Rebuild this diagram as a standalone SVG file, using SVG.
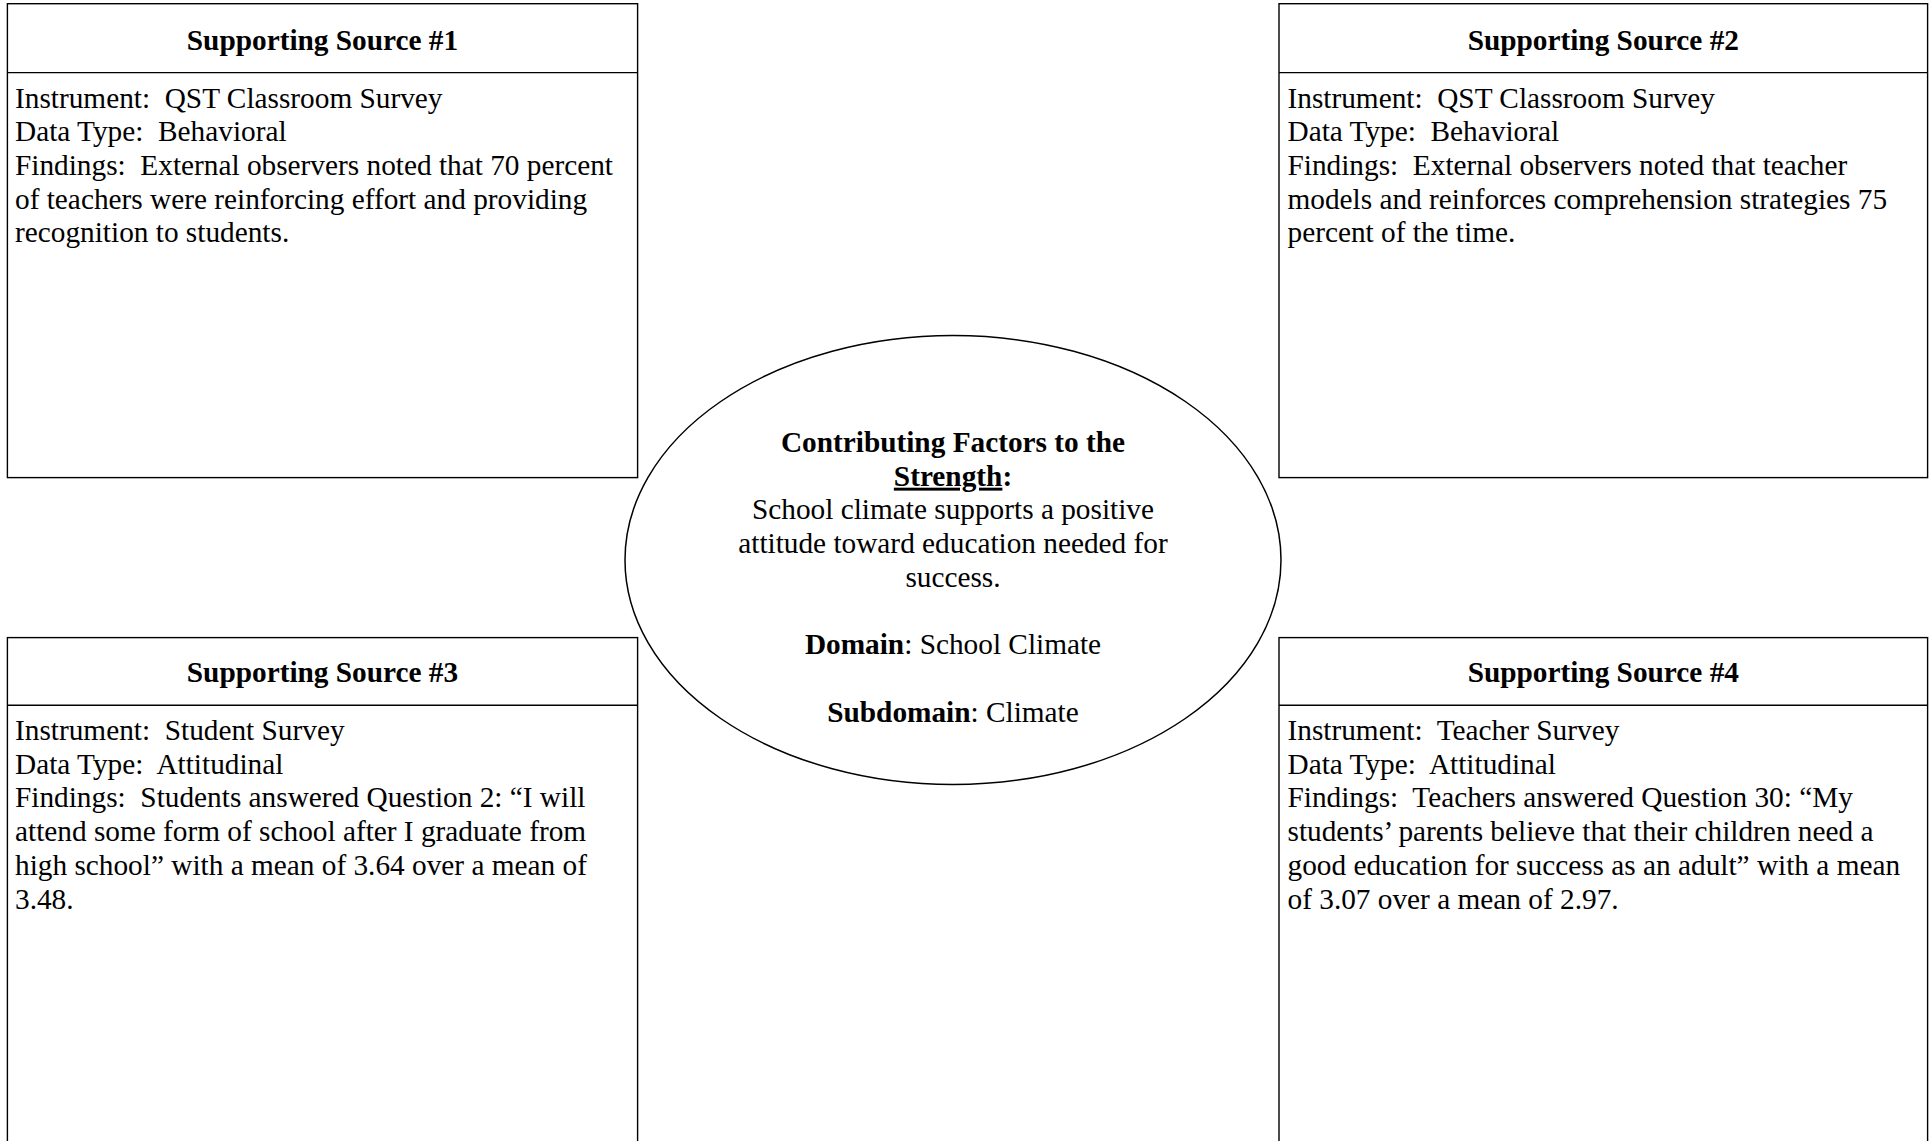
<svg xmlns="http://www.w3.org/2000/svg" width="1930" height="1141" viewBox="0 0 1930 1141">
<style>
.box{fill:#fff;stroke:#000;stroke-width:1.4}
.sep{stroke:#000;stroke-width:1.4}
.hd{font-family:"Liberation Serif","Times New Roman",serif;font-size:29.3px;font-weight:bold;text-anchor:middle;fill:#000}
.bd{font-family:"Liberation Serif","Times New Roman",serif;font-size:29.3px;fill:#000;white-space:pre}
.ct{font-family:"Liberation Serif","Times New Roman",serif;font-size:29.3px;fill:#000;text-anchor:middle}
.b{font-weight:bold}
</style>
<rect width="1930" height="1141" fill="#fff"/>
<g id="connectors"/>
<g id="source1">
<rect class="box" x="7.4" y="3.7" width="630.2" height="473.9"/>
<line class="sep" x1="7.4" y1="72.6" x2="637.6" y2="72.6"/>
<text class="hd" x="322.5" y="50">Supporting Source #1</text>
<text class="bd" xml:space="preserve"><tspan x="15" y="107.5">Instrument:  QST Classroom Survey</tspan><tspan x="15" y="141.2">Data Type:  Behavioral</tspan><tspan x="15" y="174.9">Findings:  External observers noted that 70 percent</tspan><tspan x="15" y="208.6">of teachers were reinforcing effort and providing</tspan><tspan x="15" y="242.3">recognition to students.</tspan></text>
</g>
<g id="source2">
<rect class="box" x="1279" y="3.7" width="648.6" height="473.9"/>
<line class="sep" x1="1279" y1="72.6" x2="1927.6" y2="72.6"/>
<text class="hd" x="1603.3" y="50">Supporting Source #2</text>
<text class="bd" xml:space="preserve"><tspan x="1287.5" y="107.5">Instrument:  QST Classroom Survey</tspan><tspan x="1287.5" y="141.2">Data Type:  Behavioral</tspan><tspan x="1287.5" y="174.9">Findings:  External observers noted that teacher</tspan><tspan x="1287.5" y="208.6">models and reinforces comprehension strategies 75</tspan><tspan x="1287.5" y="242.3">percent of the time.</tspan></text>
</g>
<g id="source3">
<rect class="box" x="7.4" y="637.6" width="630.2" height="520"/>
<line class="sep" x1="7.4" y1="705.3" x2="637.6" y2="705.3"/>
<text class="hd" x="322.5" y="682">Supporting Source #3</text>
<text class="bd" xml:space="preserve"><tspan x="15" y="740">Instrument:  Student Survey</tspan><tspan x="15" y="773.7">Data Type:  Attitudinal</tspan><tspan x="15" y="807.4">Findings:  Students answered Question 2: “I will</tspan><tspan x="15" y="841.1">attend some form of school after I graduate from</tspan><tspan x="15" y="874.8">high school” with a mean of 3.64 over a mean of</tspan><tspan x="15" y="908.5">3.48.</tspan></text>
</g>
<g id="source4">
<rect class="box" x="1279" y="637.6" width="648.6" height="520"/>
<line class="sep" x1="1279" y1="705.3" x2="1927.6" y2="705.3"/>
<text class="hd" x="1603.3" y="682">Supporting Source #4</text>
<text class="bd" xml:space="preserve"><tspan x="1287.5" y="740">Instrument:  Teacher Survey</tspan><tspan x="1287.5" y="773.7">Data Type:  Attitudinal</tspan><tspan x="1287.5" y="807.4">Findings:  Teachers answered Question 30: “My</tspan><tspan x="1287.5" y="841.1">students’ parents believe that their children need a</tspan><tspan x="1287.5" y="874.8">good education for success as an adult” with a mean</tspan><tspan x="1287.5" y="908.5">of 3.07 over a mean of 2.97.</tspan></text>
</g>
<g id="strength">
<ellipse cx="953" cy="560" rx="328" ry="224.5" fill="#fff" stroke="#000" stroke-width="1.5"/>
<text class="ct"><tspan class="b" x="953" y="452">Contributing Factors to the</tspan><tspan class="b" x="953" y="485.7"><tspan text-decoration="underline">Strength</tspan>:</tspan><tspan x="953" y="519.4">School climate supports a positive</tspan><tspan x="953" y="553.1">attitude toward education needed for</tspan><tspan x="953" y="586.8">success.</tspan><tspan x="953" y="654.2"><tspan class="b">Domain</tspan>: School Climate</tspan><tspan x="953" y="721.6"><tspan class="b">Subdomain</tspan>: Climate</tspan></text>
</g>
</svg>
